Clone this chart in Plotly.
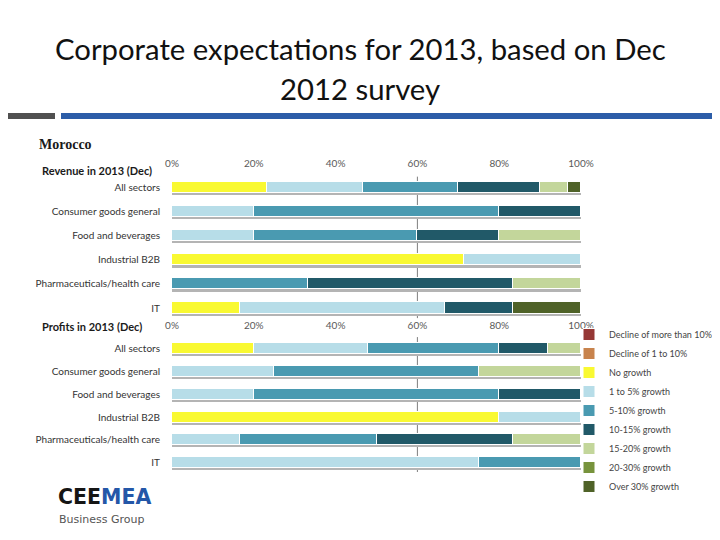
import plotly.graph_objects as go

# ---------------- data ----------------
categories = ["All sectors", "Consumer goods general", "Food and beverages",
              "Industrial B2B", "Pharmaceuticals/health care", "IT"]
series_names = ["Decline of more than 10%", "Decline of 1 to 10%", "No growth",
                "1 to 5% growth", "5-10% growth", "10-15% growth",
                "15-20% growth", "20-30% growth", "Over 30% growth"]
series_colors = ["#953735", "#C8834D", "#F9F932", "#B7DDE8", "#4A9AB1",
                 "#215968", "#C3D69B", "#77933C", "#4F6228"]
tick_values = [0, 20, 40, 60, 80, 100]
tick_labels = ["0%", "20%", "40%", "60%", "80%", "100%"]

# Revenue in 2013 (Dec), % of respondents
rev_decline_more_10 = [0, 0, 0, 0, 0, 0]
rev_decline_1_10 = [0, 0, 0, 0, 0, 0]
rev_no_growth = [23.3, 0, 0, 71.4, 0, 16.7]
rev_1_5 = [23.3, 20, 20, 28.6, 0, 50]
rev_5_10 = [23.3, 60, 40, 0, 33.3, 0]
rev_10_15 = [20, 20, 20, 0, 50, 16.6]
rev_15_20 = [6.8, 0, 20, 0, 16.7, 0]
rev_20_30 = [0, 0, 0, 0, 0, 0]
rev_over_30 = [3.3, 0, 0, 0, 0, 16.7]

# Profits in 2013 (Dec), % of respondents
prof_decline_more_10 = [0, 0, 0, 0, 0, 0]
prof_decline_1_10 = [0, 0, 0, 0, 0, 0]
prof_no_growth = [20, 0, 0, 80, 0, 0]
prof_1_5 = [28, 25, 20, 20, 16.7, 75]
prof_5_10 = [32, 50, 60, 0, 33.3, 25]
prof_10_15 = [12, 0, 20, 0, 33.3, 0]
prof_15_20 = [8, 25, 0, 0, 16.7, 0]
prof_20_30 = [0, 0, 0, 0, 0, 0]
prof_over_30 = [0, 0, 0, 0, 0, 0]

revenue_series = [rev_decline_more_10, rev_decline_1_10, rev_no_growth, rev_1_5,
                  rev_5_10, rev_10_15, rev_15_20, rev_20_30, rev_over_30]
profit_series = [prof_decline_more_10, prof_decline_1_10, prof_no_growth, prof_1_5,
                 prof_5_10, prof_10_15, prof_15_20, prof_20_30, prof_over_30]
full_row = [100] * len(categories)

# ---------------- figure ----------------
W, H = 720, 540
OFF = 8          # the page places the figure 8px in from the top-left corner
FONT = "Lato"
positions = list(range(len(categories)))

fig = go.Figure()

def px_x(p):
    return (p - OFF) / W

def px_y(p):
    return (H - (p - OFF)) / H

# shadows under each bar
for axis_x, axis_y, width, shift in (("x", "y", 0.46, 0.09), ("x2", "y2", 0.48, 0.09)):
    fig.add_trace(go.Bar(
        x=full_row, y=[p + shift for p in positions], orientation="h",
        width=width, marker=dict(color="#B4B4B4", line=dict(width=0)),
        showlegend=False, hoverinfo="skip", xaxis=axis_x, yaxis=axis_y))

for name, color, vals in zip(series_names, series_colors, revenue_series):
    fig.add_trace(go.Bar(
        x=vals, y=positions, orientation="h", name=name, width=0.46,
        marker=dict(color=color, line=dict(color="white", width=1)),
        legendgroup=name, showlegend=False, xaxis="x", yaxis="y"))

for name, color, vals in zip(series_names, series_colors, profit_series):
    fig.add_trace(go.Bar(
        x=vals, y=positions, orientation="h", name=name, width=0.48,
        marker=dict(color=color, line=dict(color="white", width=1)),
        legendgroup=name, showlegend=True, xaxis="x2", yaxis="y2"))

x_dom = [px_x(172), px_x(581)]
xaxis_common = dict(domain=x_dom, range=[0, 100], side="top", automargin=False,
                    tickvals=tick_values, ticktext=tick_labels,
                    showgrid=False, zeroline=False, showline=False, ticks="",
                    tickfont=dict(family=FONT, size=10, color="#595959"))
yaxis_common = dict(tickvals=positions, ticktext=categories, showgrid=False,
                    zeroline=False, showline=False, ticks="", automargin=False,
                    ticklabelstandoff=11,
                    tickfont=dict(family=FONT, size=10, color="#333333"))

fig.update_layout(
    width=W, height=H, margin=dict(l=0, r=0, t=0, b=0, pad=0, autoexpand=False),
    paper_bgcolor="white", plot_bgcolor="white",
    barmode="stack", bargap=0,
    xaxis=dict(anchor="y", **xaxis_common),
    xaxis2=dict(anchor="y2", **xaxis_common),
    yaxis=dict(domain=[px_y(320), px_y(170)], range=[5.498, -0.726],
               anchor="x", **yaxis_common),
    yaxis2=dict(domain=[px_y(472), px_y(332)], range=[5.405, -0.722],
                anchor="x2", **yaxis_common),
    legend=dict(x=px_x(569), y=px_y(320), xanchor="left", yanchor="top",
                traceorder="normal", bgcolor="rgba(0,0,0,0)",
                font=dict(family=FONT, size=9, color="#444444")),
    showlegend=True,
)

# 60% reference line in each panel
fig.add_shape(type="line", xref="x", yref="y", x0=60, x1=60, y0=-0.45, y1=5.42,
              line=dict(color="#7F7F7F", width=1), layer="below")
fig.add_shape(type="line", xref="x2", yref="y2", x0=60, x1=60, y0=-0.5, y1=5.45,
              line=dict(color="#7F7F7F", width=1), layer="below")

# header rule
fig.add_shape(type="rect", xref="paper", yref="paper", x0=0, x1=px_x(55),
              y0=px_y(119), y1=px_y(113), fillcolor="#505050", line=dict(width=0))
fig.add_shape(type="rect", xref="paper", yref="paper", x0=px_x(61), x1=1,
              y0=px_y(119), y1=px_y(113), fillcolor="#2C5DA8", line=dict(width=0))

annotations = [
    dict(text="Corporate expectations for 2013, based on Dec", x=px_x(360), y=px_y(48),
         xanchor="center", yanchor="middle",
         font=dict(family=FONT, size=29.3, color="#111111")),
    dict(text="2012 survey", x=px_x(360), y=px_y(88), xanchor="center", yanchor="middle",
         font=dict(family=FONT, size=29.3, color="#111111")),
    dict(text="<b>Morocco</b>", x=px_x(37), y=px_y(145), xanchor="left", yanchor="middle",
         font=dict(family="Liberation Serif", size=14, color="#1a1a1a")),
    dict(text="<b>Revenue in 2013 (Dec)</b>", x=px_x(40), y=px_y(170), xanchor="left",
         yanchor="middle", font=dict(family=FONT, size=11, color="#1a1a1a")),
    dict(text="<b>Profits in 2013 (Dec)</b>", x=px_x(40), y=px_y(326), xanchor="left",
         yanchor="middle", font=dict(family=FONT, size=11, color="#1a1a1a")),
    dict(text="<b><span style='color:#151515'>CEE</span><span style='color:#2457A8'>MEA</span></b>",
         x=px_x(56), y=px_y(497), xanchor="left", yanchor="middle",
         font=dict(family="DejaVu Sans", size=20.5)),
    dict(text="Business Group", x=px_x(57), y=px_y(519), xanchor="left", yanchor="middle",
         font=dict(family="DejaVu Sans", size=11, color="#555555")),
]
for a in annotations:
    a.update(xref="paper", yref="paper", showarrow=False)
fig.update_layout(annotations=annotations)

fig.write_html("out.html")
